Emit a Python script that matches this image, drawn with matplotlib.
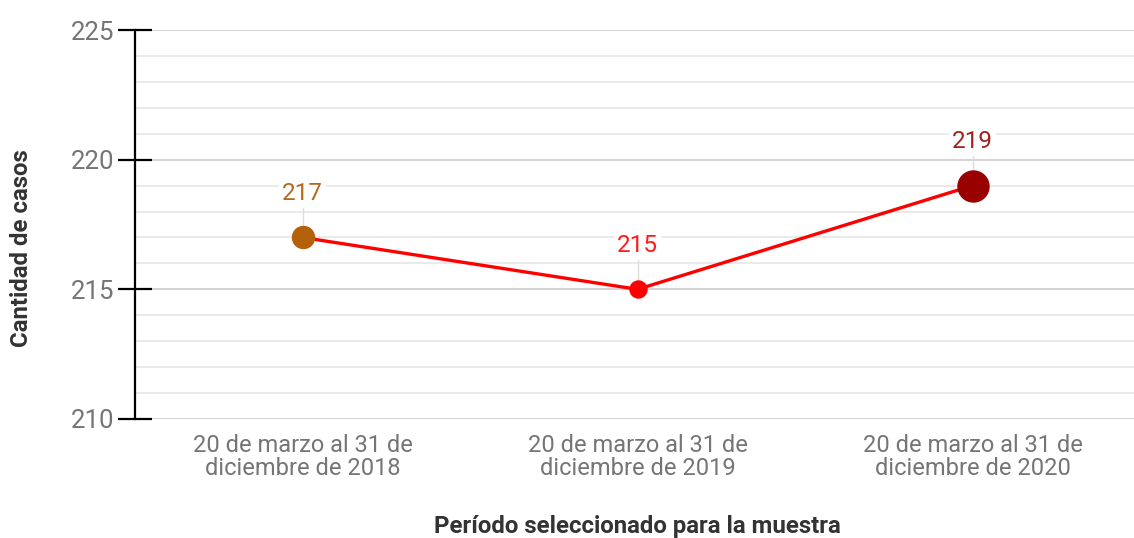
import matplotlib.pyplot as plt
from matplotlib.ticker import MultipleLocator

periods = ['20 de marzo al 31 de\ndiciembre de 2018',
           '20 de marzo al 31 de\ndiciembre de 2019',
           '20 de marzo al 31 de\ndiciembre de 2020']
cases = [217, 215, 219]
point_colors = ['#b5600b', '#ff0000', '#990000']
label_colors = ['#b8661c', '#ff1a1a', '#a32020']
point_sizes = [22, 17, 31]  # marker diameter in px-ish

plt.rcParams['font.family'] = ['Roboto', 'DejaVu Sans']

fig = plt.figure(figsize=(11.34, 5.38), dpi=100)
ax = fig.add_axes([135 / 1134, 1 - 419 / 538, 1 - 135 / 1134, (419 - 30) / 538])

x = list(range(len(cases)))
ax.plot(x, cases, color='#ff0000', lw=2.4, zorder=3)
for xi, yi, c, lc, s in zip(x, cases, point_colors, label_colors, point_sizes):
    ax.plot(xi, yi, 'o', color=c, markersize=s * 0.72, zorder=4)
    ax.plot([xi, xi], [yi, yi + 1.25], color='#dddddd', lw=1, zorder=2)
    ax.annotate(str(yi), (xi, yi), xytext=(0, 44), textcoords='offset pixels',
                ha='center', va='center', fontsize=17.5, color=lc, zorder=5,
                bbox=dict(boxstyle='square,pad=0.12', fc='white', ec='none'))

ax.set_xlim(-0.5, 2.482)
ax.set_ylim(210, 225)
ax.yaxis.set_major_locator(MultipleLocator(5))
ax.yaxis.set_minor_locator(MultipleLocator(1))
ax.grid(which='major', axis='y', color='#cccccc', lw=1.2)
ax.grid(which='minor', axis='y', color='#e6e6e6', lw=1.2)
ax.set_axisbelow(True)

ax.set_xticks(x)
ax.set_xticklabels(periods, fontsize=17, color='#757575', linespacing=1.0)
ax.tick_params(axis='x', length=0, pad=11)
ax.tick_params(axis='y', which='major', direction='inout', length=24, width=1.6,
               color='black', labelsize=18.5, labelcolor='#757575', pad=3)
ax.tick_params(axis='y', which='minor', length=0)

for s in ['top', 'right', 'bottom']:
    ax.spines[s].set_visible(False)
ax.spines['left'].set_linewidth(1.6)

fig.text(22 / 1134, 1 - 248 / 538, 'Cantidad de casos', rotation=90, ha='center', va='center',
         fontsize=17.3, fontweight='bold', color='#333333')
fig.text(637 / 1134, 1 - 526 / 538, 'Período seleccionado para la muestra', ha='center', va='center',
         fontsize=17.3, fontweight='bold', color='#333333')

fig.savefig('out.png', dpi=100)
